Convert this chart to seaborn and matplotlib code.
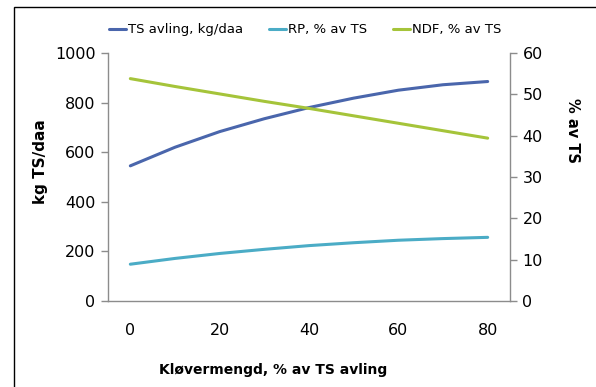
import matplotlib
matplotlib.use("Agg")
import matplotlib.pyplot as plt
import seaborn as sns
import pandas as pd
from matplotlib.patches import Rectangle

kloever = [0, 10, 20, 30, 40, 50, 60, 70, 80]
ts_avling = [545, 620, 683, 735, 780, 818, 850, 872, 885]
rp_pct = [8.9, 10.3, 11.5, 12.5, 13.4, 14.1, 14.7, 15.1, 15.4]
ndf_pct = [53.8, 51.9, 50.1, 48.3, 46.6, 44.8, 43.0, 41.2, 39.4]
left_ticks = [0, 200, 400, 600, 800, 1000]
right_ticks = [0, 10, 20, 30, 40, 50, 60]
x_ticks = [0, 20, 40, 60, 80]

df = pd.DataFrame({"x": kloever, "ts": ts_avling, "rp": rp_pct, "ndf": ndf_pct})

sns.set_theme(style="white")
plt.rcParams['font.family'] = ['DejaVu Sans']
plt.rcParams['text.color'] = 'black'
plt.rcParams['axes.labelcolor'] = 'black'
plt.rcParams['xtick.color'] = 'black'
plt.rcParams['ytick.color'] = 'black'

W, H = 596, 387
fig = plt.figure(figsize=(W/100, H/100), dpi=100)
ax = fig.add_axes([108/W, 1-301/H, (510-108)/W, (301-53)/H])
ax2 = ax.twinx()

c_ts = "#4A66AC"
c_rp = "#4BACC6"
c_ndf = "#A5C43A"
lw = 2.2

sns.lineplot(data=df, x="x", y="ts", ax=ax, color=c_ts, linewidth=lw, label="TS avling, kg/daa", legend=False)
sns.lineplot(data=df, x="x", y="rp", ax=ax2, color=c_rp, linewidth=lw, label="RP, % av TS", legend=False)
sns.lineplot(data=df, x="x", y="ndf", ax=ax2, color=c_ndf, linewidth=lw, label="NDF, % av TS", legend=False)

ax.set_xlim(-5, 85)
ax.set_ylim(0, 1000)
ax2.set_ylim(0, 60)
ax.set_xticks(x_ticks)
ax.set_yticks(left_ticks)
ax2.set_yticks(right_ticks)
ax.set_xlabel("")
ax.set_ylabel("")
ax2.set_ylabel("")

gray = "#8C8C8C"
for a in (ax, ax2):
    for s in a.spines.values():
        s.set_visible(False)
ax.spines['left'].set_visible(True)
ax.spines['bottom'].set_visible(True)
ax2.spines['right'].set_visible(True)
for s in (ax.spines['left'], ax.spines['bottom'], ax2.spines['right']):
    s.set_color(gray)
    s.set_linewidth(1.0)

ax.tick_params(axis='y', which='both', left=True, length=5, width=1, color=gray, labelsize=11.5, labelcolor="black", pad=4)
ax.tick_params(axis='x', bottom=False, labelsize=11.5, labelcolor="black", pad=10)
ax2.tick_params(axis='y', right=True, length=5, width=1, color=gray, labelsize=11.5, labelcolor="black", pad=4)

fig.text(40/W, 1-162/H, "kg TS/daa", rotation=90, ha="center", va="center", fontsize=11, fontweight="bold", color="black")
fig.text(573/W, 1-130/H, "% av TS", rotation=-90, ha="center", va="center", fontsize=10.5, fontweight="bold", color="black")
fig.text(273/W, 1-370/H, "Kløvermengd, % av TS avling", ha="center", va="center", fontsize=10, fontweight="bold", color="black")

handles = ax.get_lines()[:1] + ax2.get_lines()[:2]
labels = ["TS avling, kg/daa", "RP, % av TS", "NDF, % av TS"]
leg = fig.legend(handles, labels, loc="center", bbox_to_anchor=(305/W, 1-30/H), ncol=3, frameon=False,
                 fontsize=9.5, handlelength=1.3, handletextpad=0.1, columnspacing=2.0, borderaxespad=0)
for t in leg.get_texts():
    t.set_color("black")

fig.patches.append(Rectangle((14/W, -0.1), 1.2, 1-7/H+0.1, transform=fig.transFigure,
                             fill=False, edgecolor="black", linewidth=1.0))

fig.savefig("out.png", dpi=100)
